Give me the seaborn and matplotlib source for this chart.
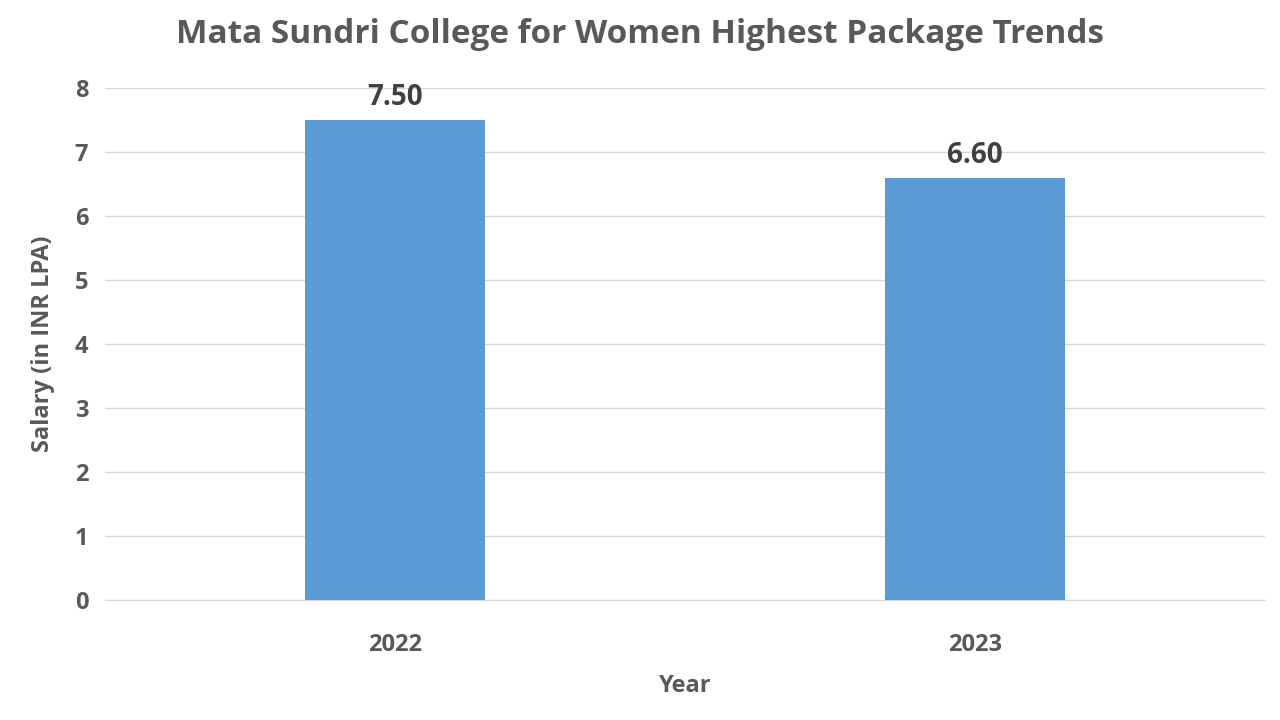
import matplotlib
matplotlib.use("Agg")
import matplotlib.pyplot as plt
import seaborn as sns
import pandas as pd

# dados
anos = ["2022", "2023"]
salarios = [7.50, 6.60]

df = pd.DataFrame({"Year": anos, "Salary": salarios})

sns.set_style("white")
plt.rcParams["font.family"] = ["Open Sans", "DejaVu Sans"]
cinza = "#595959"

fig = plt.figure(figsize=(12.8, 7.2), dpi=100)
ax = fig.add_axes([0.082, 0.1667, 0.906, 0.711])

sns.barplot(data=df, x="Year", y="Salary", color="#5B9BD5", saturation=1, width=0.31,
            linewidth=0, ax=ax, zorder=3)

for i, v in enumerate(salarios):
    ax.text(i, v + 0.12, f"{v:.2f}", ha="center", va="bottom", fontsize=20, fontweight="bold", color="#404040")

ax.set_ylim(0, 8)
ax.set_yticks(range(0, 9))
ax.grid(axis="y", color="#d9d9d9", linewidth=1, zorder=0)
for s in ["top", "right", "left"]:
    ax.spines[s].set_visible(False)
ax.spines["bottom"].set_color("#d9d9d9")
ax.tick_params(axis="y", length=0, labelsize=17, labelcolor=cinza, pad=12)
ax.tick_params(axis="x", length=0, labelsize=17, labelcolor=cinza, pad=24)
for lbl in ax.get_xticklabels() + ax.get_yticklabels():
    lbl.set_fontweight("bold")

ax.set_xlabel("Year", fontsize=17, fontweight="bold", color=cinza, labelpad=12)
ax.set_ylabel("Salary (in INR LPA)", fontsize=17, fontweight="bold", color=cinza, labelpad=14)
fig.suptitle("Mata Sundri College for Women Highest Package Trends", fontsize=24, fontweight="bold", color=cinza, x=0.5, y=0.975)

fig.savefig("out.png", dpi=100)
